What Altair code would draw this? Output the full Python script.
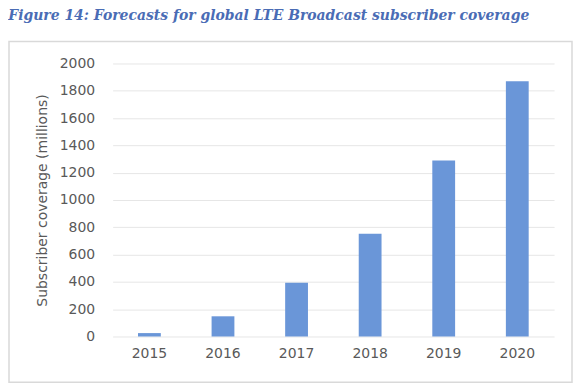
import altair as alt
import pandas as pd

years = ["2015", "2016", "2017", "2018", "2019", "2020"]
coverage = [25, 148, 394, 752, 1290, 1870]

df = pd.DataFrame({"year": years, "coverage": coverage})
frame_df = pd.DataFrame({"a": [0]})

bars = alt.Chart(df).mark_bar(color="#6a96d8").encode(
    x=alt.X("year:N", sort=years, title=None,
            scale=alt.Scale(paddingInner=0.69, paddingOuter=0.345),
            axis=alt.Axis(labelAngle=0, labelFont="DejaVu Sans", labelFontSize=14,
                          labelColor="#595959", ticks=False, domain=False, labelPadding=10)),
    y=alt.Y("coverage:Q", title="Subscriber coverage (millions)",
            scale=alt.Scale(domain=[0, 2000]),
            axis=alt.Axis(values=list(range(0, 2001, 200)), format="d", labelFont="DejaVu Sans",
                          labelFontSize=14, labelColor="#595959", ticks=False, domain=False,
                          labelPadding=18, gridColor="#e6e6e6", gridWidth=1,
                          titleFont="DejaVu Sans", titleFontSize=14, titleFontWeight="normal",
                          titleColor="#595959", titlePadding=10)),
)

frame = alt.Chart(frame_df).mark_rect(fillOpacity=0, stroke="#d9d9d9", strokeWidth=1.5).encode(
    x=alt.value(-104), x2=alt.value(461), y=alt.value(-22), y2=alt.value(320)
)

chart = alt.layer(frame, bars).properties(
    width=443, height=274, padding=0,
    title=alt.TitleParams("Figure 14: Forecasts for global LTE Broadcast subscriber coverage",
                          anchor="start", frame="bounds", font="DejaVu Serif",
                          fontSize=14, fontWeight="bold", fontStyle="italic",
                          color="#4a6cb5", offset=18),
).configure_view(stroke=None)

chart.save("out.html", embed_options={"renderer": "svg", "actions": False})
